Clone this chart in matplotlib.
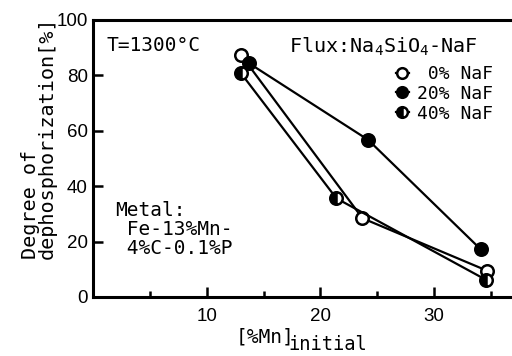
import matplotlib.pyplot as plt
from matplotlib.ticker import MultipleLocator

plt.rcParams['font.family'] = ['DejaVu Sans Mono']
plt.rcParams['mathtext.fontset'] = 'custom'
plt.rcParams['mathtext.rm'] = 'DejaVu Sans Mono'

# [%Mn]initial vs degree of dephosphorization [%]
mn0 = [13.0, 23.7, 34.7]
dp0 = [87.4, 28.4, 9.4]

mn20 = [13.7, 24.2, 34.1]
dp20 = [84.4, 56.7, 17.2]

mn40 = [13.0, 21.4, 34.6]
dp40 = [80.8, 35.6, 6.1]

labels = [" 0% NaF", "20% NaF", "40% NaF"]

fig = plt.figure(figsize=(5.12, 3.56), dpi=100)
ax = fig.add_axes([0.182, 0.166, 0.83, 0.778])

ms = 9
mew = 1.8
ax.plot(mn0, dp0, '-o', color='black', lw=1.6, ms=ms, mew=mew,
        mfc='white', mec='black', label=labels[0], zorder=3)
ax.plot(mn20, dp20, '-o', color='black', lw=1.6, ms=ms, mew=mew,
        mfc='black', mec='black', label=labels[1], zorder=3)
ax.plot(mn40, dp40, '-o', color='black', lw=1.6, ms=ms, mew=mew,
        fillstyle='left', mfc='black', markerfacecoloralt='white',
        mec='black', label=labels[2], zorder=3)

ax.set_xlim(0, 37.4)
ax.set_ylim(0, 100)
ax.set_xticks([10, 20, 30])
ax.xaxis.set_minor_locator(MultipleLocator(5))
ax.set_yticks([0, 20, 40, 60, 80, 100])
ax.tick_params(which='major', direction='in', length=7, width=1.8, labelsize=13.5)
ax.tick_params(which='minor', direction='in', length=4, width=1.8)
ax.tick_params(axis='x', pad=8)
ax.tick_params(axis='y', pad=4)
for lab in ax.get_xticklabels() + ax.get_yticklabels():
    lab.set_family(['Liberation Sans', 'DejaVu Sans'])
for s in ax.spines.values():
    s.set_linewidth(2.2)

ax.set_ylabel("Degree of\ndephosphorization[%]", fontsize=14.5,
              linespacing=0.9, multialignment='left')
ax.yaxis.set_label_coords(-0.085, 0.575)

fig.text(236 / 512, 1 - 337 / 356, "[%Mn]", fontsize=14, va='center')
fig.text(288 / 512, 1 - 345 / 356, "initial", fontsize=13.5, va='center')

ax.text(1.2, 94.3, "T=1300°C", fontsize=14, va='top')
ax.text(1.9, 34.7, "Metal:\n Fe-13%Mn-\n 4%C-0.1%P", fontsize=14, va='top',
        linespacing=1.0)
ax.text(17.2, 94.3, "Flux:Na$_{\\mathregular{4}}$SiO$_{\\mathregular{4}}$-NaF",
        fontsize=14.5, va='top')

leg = ax.legend(loc='upper right', bbox_to_anchor=(0.962, 0.87), frameon=False,
                fontsize=13, handlelength=0.7, handletextpad=0.45,
                labelspacing=0.1, borderpad=0, markerscale=0.85)

fig.savefig("out.png", dpi=100)
